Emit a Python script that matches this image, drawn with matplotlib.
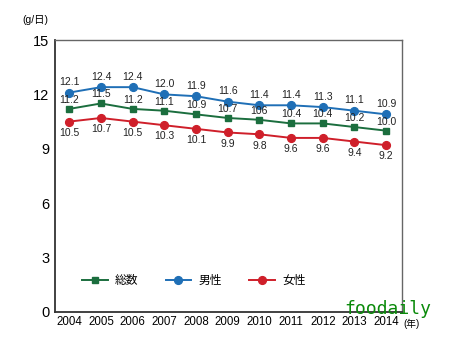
import matplotlib
matplotlib.use("Agg")
import matplotlib.pyplot as plt

plt.rcParams['font.family'] = ['Liberation Sans', 'Noto Sans CJK JP', 'DejaVu Sans']

years = [2004, 2005, 2006, 2007, 2008, 2009, 2010, 2011, 2012, 2013, 2014]
total = [11.2, 11.5, 11.2, 11.1, 10.9, 10.7, 10.6, 10.4, 10.4, 10.2, 10.0]
total_labels = ["11.2", "11.5", "11.2", "11.1", "10.9", "10.7", "106", "10.4", "10.4", "10.2", "10.0"]
male = [12.1, 12.4, 12.4, 12.0, 11.9, 11.6, 11.4, 11.4, 11.3, 11.1, 10.9]
female = [10.5, 10.7, 10.5, 10.3, 10.1, 9.9, 9.8, 9.6, 9.6, 9.4, 9.2]
series_names = ["総数", "男性", "女性"]
yticks = [0, 3, 6, 9, 12, 15]

c_total = "#1b6e3e"
c_male = "#1f6fb6"
c_female = "#cf1f2a"

fig = plt.figure(figsize=(4.5, 3.47), dpi=100)
ax = fig.add_axes([0.1222, 0.1009, 0.7711, 0.7838])

ax.plot(years, total, color=c_total, marker='s', markersize=4, lw=1.4, label=series_names[0])
ax.plot(years, male, color=c_male, marker='o', markersize=5.6, lw=1.4, label=series_names[1])
ax.plot(years, female, color=c_female, marker='o', markersize=5.6, lw=1.4, label=series_names[2])

fs = 7.5
for x, v in zip(years, male):
    ax.annotate(f"{v:.1f}", (x, v), xytext=(0, 4), textcoords='offset points',
                ha='center', va='bottom', fontsize=fs, color='#222222')
for x, v, t in zip(years, total, total_labels):
    ax.annotate(t, (x, v), xytext=(0, 3), textcoords='offset points',
                ha='center', va='bottom', fontsize=fs, color='#222222')
for x, v in zip(years, female):
    ax.annotate(f"{v:.1f}", (x, v), xytext=(0, -4.5), textcoords='offset points',
                ha='center', va='top', fontsize=fs, color='#222222')

ax.set_xlim(2003.55, 2014.5)
ax.set_ylim(0, 15)
ax.set_xticks(years)
ax.set_xticklabels([str(y) for y in years], fontsize=8.3)
ax.set_yticks(yticks)
ax.set_yticklabels([str(y) for y in yticks], fontsize=10.5)
ax.tick_params(length=0, pad=4)
ax.tick_params(axis='x', pad=3)

for s in ['left', 'bottom']:
    ax.spines[s].set_color('#333333')
    ax.spines[s].set_linewidth(1.3)
for s in ['top', 'right']:
    ax.spines[s].set_color('#666666')
    ax.spines[s].set_linewidth(1.0)

ax.text(-0.095, 1.055, "(g/日)", transform=ax.transAxes, fontsize=7.5, ha='left', va='bottom')
ax.text(1.005, -0.025, "(年)", transform=ax.transAxes, fontsize=7, ha='left', va='top')

leg = ax.legend(loc='center', bbox_to_anchor=(0.4, 0.115), ncol=3, frameon=False,
                fontsize=8.5, handlelength=2.2, columnspacing=2.3, handletextpad=0.6)

fig.text(0.765, 0.085, "foodaily", fontsize=13, color='#0a8a0a', family='DejaVu Sans Mono',
         ha='left', va='bottom')

fig.savefig("out.png", dpi=100)
